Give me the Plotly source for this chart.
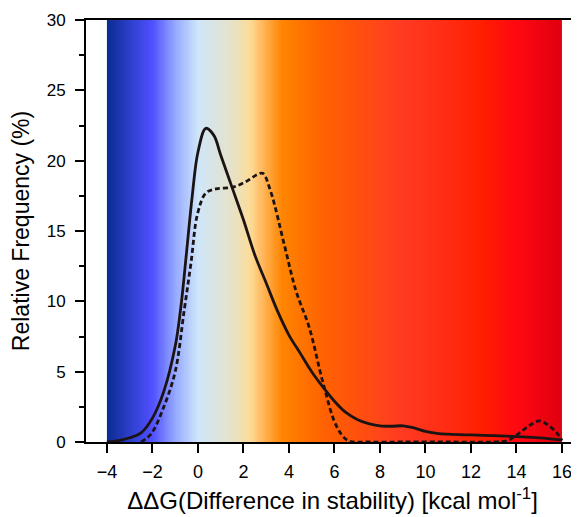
import numpy as np
import plotly.graph_objects as go

# solid curve
solid_x = [-4, -3.5, -3, -2.5, -2, -1.5, -1, -0.75, -0.5, -0.25, 0, 0.35, 0.7, 1, 1.5, 2, 2.5, 3, 3.5, 4,
           4.5, 5, 5.5, 6, 6.5, 7, 7.5, 8, 8.5, 9, 9.5, 10, 10.5, 11, 12, 13, 14, 15, 16]
solid_y = [0, 0.1, 0.3, 0.65, 1.7, 3.6, 6.8, 9.6, 13.5, 17.5, 20.6, 22.3, 21.8, 20.4, 18.1, 15.8, 13.3, 11.3,
           9.3, 7.6, 6.3, 5.0, 3.9, 2.9, 2.1, 1.6, 1.3, 1.15, 1.12, 1.15, 1.0, 0.75, 0.62, 0.56, 0.5, 0.45,
           0.38, 0.3, 0.15]

# dashed curve
dash_x = [-2.5, -2.05, -1.5, -1.0, -0.6, -0.3, -0.02, 0.35, 0.8, 1.5, 2.1, 2.6, 2.85, 3.2, 3.8, 4.3,
          4.9, 5.5, 6.1, 6.6, 7.5, 9, 11, 13, 13.6, 14.1, 14.6, 15.0, 15.4, 15.8, 16]
dash_y = [0, 0.6, 2.5, 5.0, 9.4, 12.8, 16.2, 17.7, 18.0, 18.1, 18.5, 19.0, 19.1, 17.8, 14.0, 10.8,
          8.1, 4.2, 1.1, 0.1, 0, 0, 0, 0, 0.1, 0.6, 1.2, 1.5, 1.2, 0.6, 0.1]

# background gradient colours along x (dG value, colour)
grad_x = [-4, -3, -2, -1, 0, 1.5, 2.3, 2.8, 3.7, 5.5, 9, 11, 12.5, 14, 16]
grad_c = ['#0a2a8f', '#2c3fcc', '#5050ff', '#95a8ff', '#cfe6fa', '#e6e2c8', '#fcdc98', '#ffba60',
          '#ff8400', '#ff6200', '#ff3a22', '#ff2c12', '#ff1e00', '#ff0812', '#e0000f']

xmin, xmax = -4, 16
scale = [[(v - xmin) / (xmax - xmin), c] for v, c in zip(grad_x, grad_c)]

edges = np.linspace(xmin, xmax, 401)
centers = (edges[:-1] + edges[1:]) / 2

fig = go.Figure()

fig.add_trace(go.Heatmap(x=edges, y=[0, 30], z=[centers], colorscale=scale, zmin=xmin, zmax=xmax,
                         showscale=False, hoverinfo='skip'))

fig.add_trace(go.Scatter(x=solid_x, y=solid_y, mode='lines', line_shape='spline',
                         line=dict(color='#1c1414', width=2.8), name='solid'))
fig.add_trace(go.Scatter(x=dash_x, y=dash_y, mode='lines', line_shape='spline',
                         line=dict(color='#1c1414', width=2.8, dash='5px,3px'), name='dashed'))

font = 'Liberation Sans, Arial, sans-serif'

# the page body has an 8px margin, so the figure is 8px smaller and left/top margins shifted
fig.update_layout(
    width=571, height=509,
    margin=dict(l=78, r=0, t=12, b=75),
    plot_bgcolor='white', paper_bgcolor='white',
    showlegend=False,
    font=dict(family=font, color='black'),
    xaxis=dict(range=[-4.92, 16.75], tickvals=list(range(-4, 17, 2)), ticks='outside', ticklen=9,
               tickwidth=2, tickcolor='black', showline=True, linewidth=2, linecolor='black',
               mirror=True, showgrid=False, zeroline=False, tickfont=dict(size=18),
               ticklabelstandoff=3,
               title=dict(text='ΔΔG(Difference in stability) [kcal mol<sup>-1</sup>]',
                          font=dict(size=24), standoff=12)),
    yaxis=dict(range=[0, 30], tickvals=list(range(0, 31, 5)), ticks='outside', ticklen=9,
               tickwidth=2, tickcolor='black', showline=True, linewidth=2, linecolor='black',
               showgrid=False, zeroline=False, tickfont=dict(size=17), ticklabelstandoff=6,
               minor=dict(tickvals=[2.5, 7.5, 12.5, 17.5, 22.5, 27.5], ticks='outside', ticklen=5,
                          tickwidth=2, tickcolor='black'),
               title=dict(text='Relative Frequency (%)', font=dict(size=23), standoff=14)),
)

fig.write_html("out.html")
